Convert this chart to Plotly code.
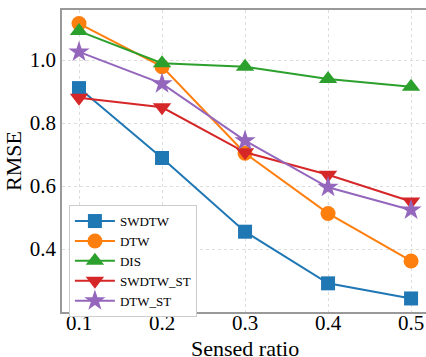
import plotly.graph_objects as go

ratios = [0.1, 0.2, 0.3, 0.4, 0.5]
swdtw = [0.911, 0.689, 0.455, 0.291, 0.243]
dtw = [1.116, 0.979, 0.704, 0.513, 0.362]
dis = [1.092, 0.990, 0.979, 0.940, 0.915]
swdtw_st = [0.880, 0.850, 0.707, 0.636, 0.551]
dtw_st = [1.026, 0.925, 0.744, 0.596, 0.524]
y_ticks = [0.4, 0.6, 0.8, 1.0]
x_ticks = [0.1, 0.2, 0.3, 0.4, 0.5]

series = [
    ("SWDTW", swdtw, "#1f77b4", "square", 14),
    ("DTW", dtw, "#ff7f0e", "circle", 15),
    ("DIS", dis, "#2ca02c", "triangle-up", 16),
    ("SWDTW_ST", swdtw_st, "#d62728", "triangle-down", 16),
    ("DTW_ST", dtw_st, "#9467bd", "star", 16),
]

fig = go.Figure()
for name, vals, color, sym, size in series:
    fig.add_trace(go.Scatter(
        x=ratios, y=vals, name=name, mode="lines+markers",
        line=dict(color=color, width=2),
        marker=dict(symbol=sym, size=size, color=color, line=dict(width=0)),
    ))

font = "Liberation Serif"
fig.update_layout(
    width=426, height=357,
    margin=dict(l=62, r=0, t=10, b=45),
    paper_bgcolor="white", plot_bgcolor="white",
    font=dict(family=font, color="black"),
    showlegend=True,
    legend=dict(
        x=0.019, y=0.354, xanchor="left", yanchor="top",
        bgcolor="white", bordercolor="#cccccc", borderwidth=1,
        font=dict(family=font, size=13, color="black"),
        itemwidth=40, tracegroupgap=0,
    ),
    xaxis=dict(
        range=[0.0795, 0.518], tickvals=x_ticks, ticktext=[str(v) for v in x_ticks],
        tickfont=dict(family=font, size=21, color="black"),
        showline=True, linecolor="#999999", linewidth=1.5, mirror=True,
        showgrid=True, gridcolor="#dddddd", griddash="dot", gridwidth=1,
        zeroline=False, ticks="", ticklen=0, automargin=False, ticklabelstandoff=-9,
    ),
    yaxis=dict(
        range=[0.2, 1.159], tickvals=y_ticks, ticktext=[f"{v:.1f}" for v in y_ticks],
        tickfont=dict(family=font, size=21, color="black"),
        showline=True, linecolor="#999999", linewidth=1.5, mirror=False,
        showgrid=True, gridcolor="#dddddd", griddash="dot", gridwidth=1,
        zeroline=False, ticks="", automargin=False,
        title=dict(text="RMSE", font=dict(family=font, size=22, color="black"), standoff=2),
    ),
    annotations=[dict(
        text="Sensed ratio", xref="paper", yref="paper", x=0.503, y=-0.164,
        xanchor="center", yanchor="bottom", showarrow=False, borderpad=0,
        font=dict(family=font, size=22, color="black"),
    )],
)

fig.write_html("out.html", config={"displayModeBar": False},
               post_script="document.body.style.margin='0';document.body.style.overflow='hidden';")
